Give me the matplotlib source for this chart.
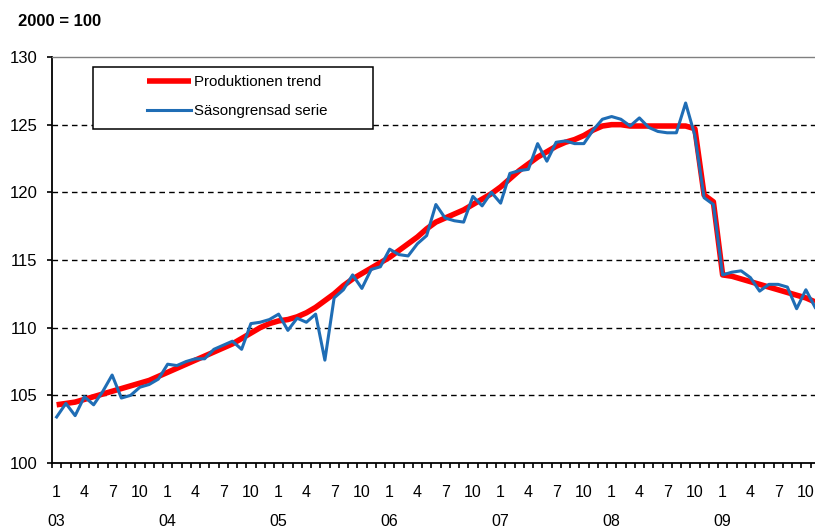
import numpy as np
import matplotlib.pyplot as plt
from matplotlib.patches import Rectangle

plt.rcParams['font.family'] = ['Liberation Sans', 'DejaVu Sans']

# monthly index 2003:1 - 2009:11, 2000 = 100
trend = [104.3, 104.4, 104.5, 104.7, 104.9, 105.1, 105.3, 105.5, 105.7, 105.9, 106.1, 106.4,
         106.7, 107.0, 107.3, 107.6, 107.9, 108.2, 108.5, 108.8, 109.2, 109.6, 110.0, 110.3,
         110.5, 110.6, 110.8, 111.1, 111.5, 112.0, 112.5, 113.1, 113.6, 114.0, 114.4, 114.8,
         115.2, 115.7, 116.2, 116.7, 117.3, 117.8, 118.1, 118.4, 118.7, 119.1, 119.5, 119.9,
         120.4, 121.0, 121.6, 122.1, 122.6, 123.0, 123.4, 123.7, 123.9, 124.2, 124.6, 124.9,
         125.0, 125.0, 124.9, 124.9, 124.9, 124.9, 124.9, 124.9, 124.9, 124.7, 119.8, 119.3,
         113.9, 113.8, 113.6, 113.4, 113.2, 113.0, 112.8, 112.6, 112.4, 112.2, 111.9]

sasong = [103.4, 104.4, 103.5, 104.9, 104.3, 105.3, 106.5, 104.8, 105.0, 105.6, 105.8, 106.2,
          107.3, 107.2, 107.5, 107.7, 107.7, 108.4, 108.7, 109.0, 108.4, 110.3, 110.4, 110.6,
          111.0, 109.8, 110.7, 110.4, 111.0, 107.6, 112.2, 112.8, 113.9, 112.9, 114.3, 114.5,
          115.8, 115.4, 115.3, 116.2, 116.8, 119.1, 118.1, 117.9, 117.8, 119.7, 119.0, 120.0,
          119.2, 121.4, 121.6, 121.7, 123.6, 122.3, 123.7, 123.8, 123.6, 123.6, 124.6, 125.4,
          125.6, 125.4, 124.9, 125.5, 124.8, 124.5, 124.4, 124.4, 126.6, 124.2, 119.6, 119.1,
          113.9, 114.1, 114.2, 113.7, 112.7, 113.2, 113.2, 113.0, 111.4, 112.8, 111.5]

years = ['03', '04', '05', '06', '07', '08', '09']
month_labels = ['1', '4', '7', '10']

n = len(trend)
x = np.arange(n)

fig = plt.figure(figsize=(8.15, 5.29), dpi=100)
ax = fig.add_axes([52 / 815, 66 / 529, 767.75 / 815, 406 / 529])

ax.plot(x, trend, color='#ff0000', lw=4.0, solid_capstyle='butt', label='Produktionen trend', zorder=3)
ax.plot(x, sasong, color='#1f6db5', lw=2.2, label='Säsongrensad serie', zorder=4)

ax.set_xlim(-0.5, n - 0.5)
ax.set_ylim(100, 130)
ax.set_yticks(np.arange(100, 131, 5))

major = np.arange(0, n, 3)
ax.set_xticks(major)
ax.set_xticklabels([month_labels[(i // 3) % 4] for i in major])
ax.set_xticks(np.arange(-0.5, n, 1), minor=True)
ax.tick_params(axis='x', which='major', length=0, pad=16, labelsize=11.5)
ax.tick_params(axis='x', which='minor', length=3.4, width=1.2, direction='out')
ax.tick_params(axis='y', length=3.6, width=1.2, pad=7, labelsize=12)

for k, yr in enumerate(years):
    ax.text(12 * k, -0.1446, yr, transform=ax.get_xaxis_transform(),
            ha='center', va='center', fontsize=11.5)

ax.grid(axis='y', color='black', linestyle=(0, (4, 3)), lw=1.0)
ax.set_axisbelow(True)
glines = ax.get_ygridlines()
glines[0].set_visible(False)
glines[-1].set_visible(False)

ax.spines['right'].set_visible(False)
ax.spines['top'].set_color('#808080')
ax.spines['top'].set_linewidth(1.0)
ax.spines['left'].set_linewidth(1.3)
ax.spines['bottom'].set_linewidth(1.3)

box = Rectangle((93 / 815, 1 - 129 / 529), 280 / 815, 62 / 529, transform=fig.transFigure,
                facecolor='white', edgecolor='black', lw=1.1, zorder=5)
ax.add_patch(box)
leg = ax.legend(loc='center left', bbox_to_anchor=(147 / 815, 1 - 97 / 529),
                bbox_transform=fig.transFigure, frameon=False, borderpad=0, borderaxespad=0,
                handlelength=2.9, handletextpad=0.25, labelspacing=1.0, fontsize=10.8)
leg.set_zorder(6)

fig.text(18 / 815, 1 - 21 / 529, '2000 = 100', fontsize=12, fontweight='bold', va='center')

fig.savefig('out.png', dpi=100)
